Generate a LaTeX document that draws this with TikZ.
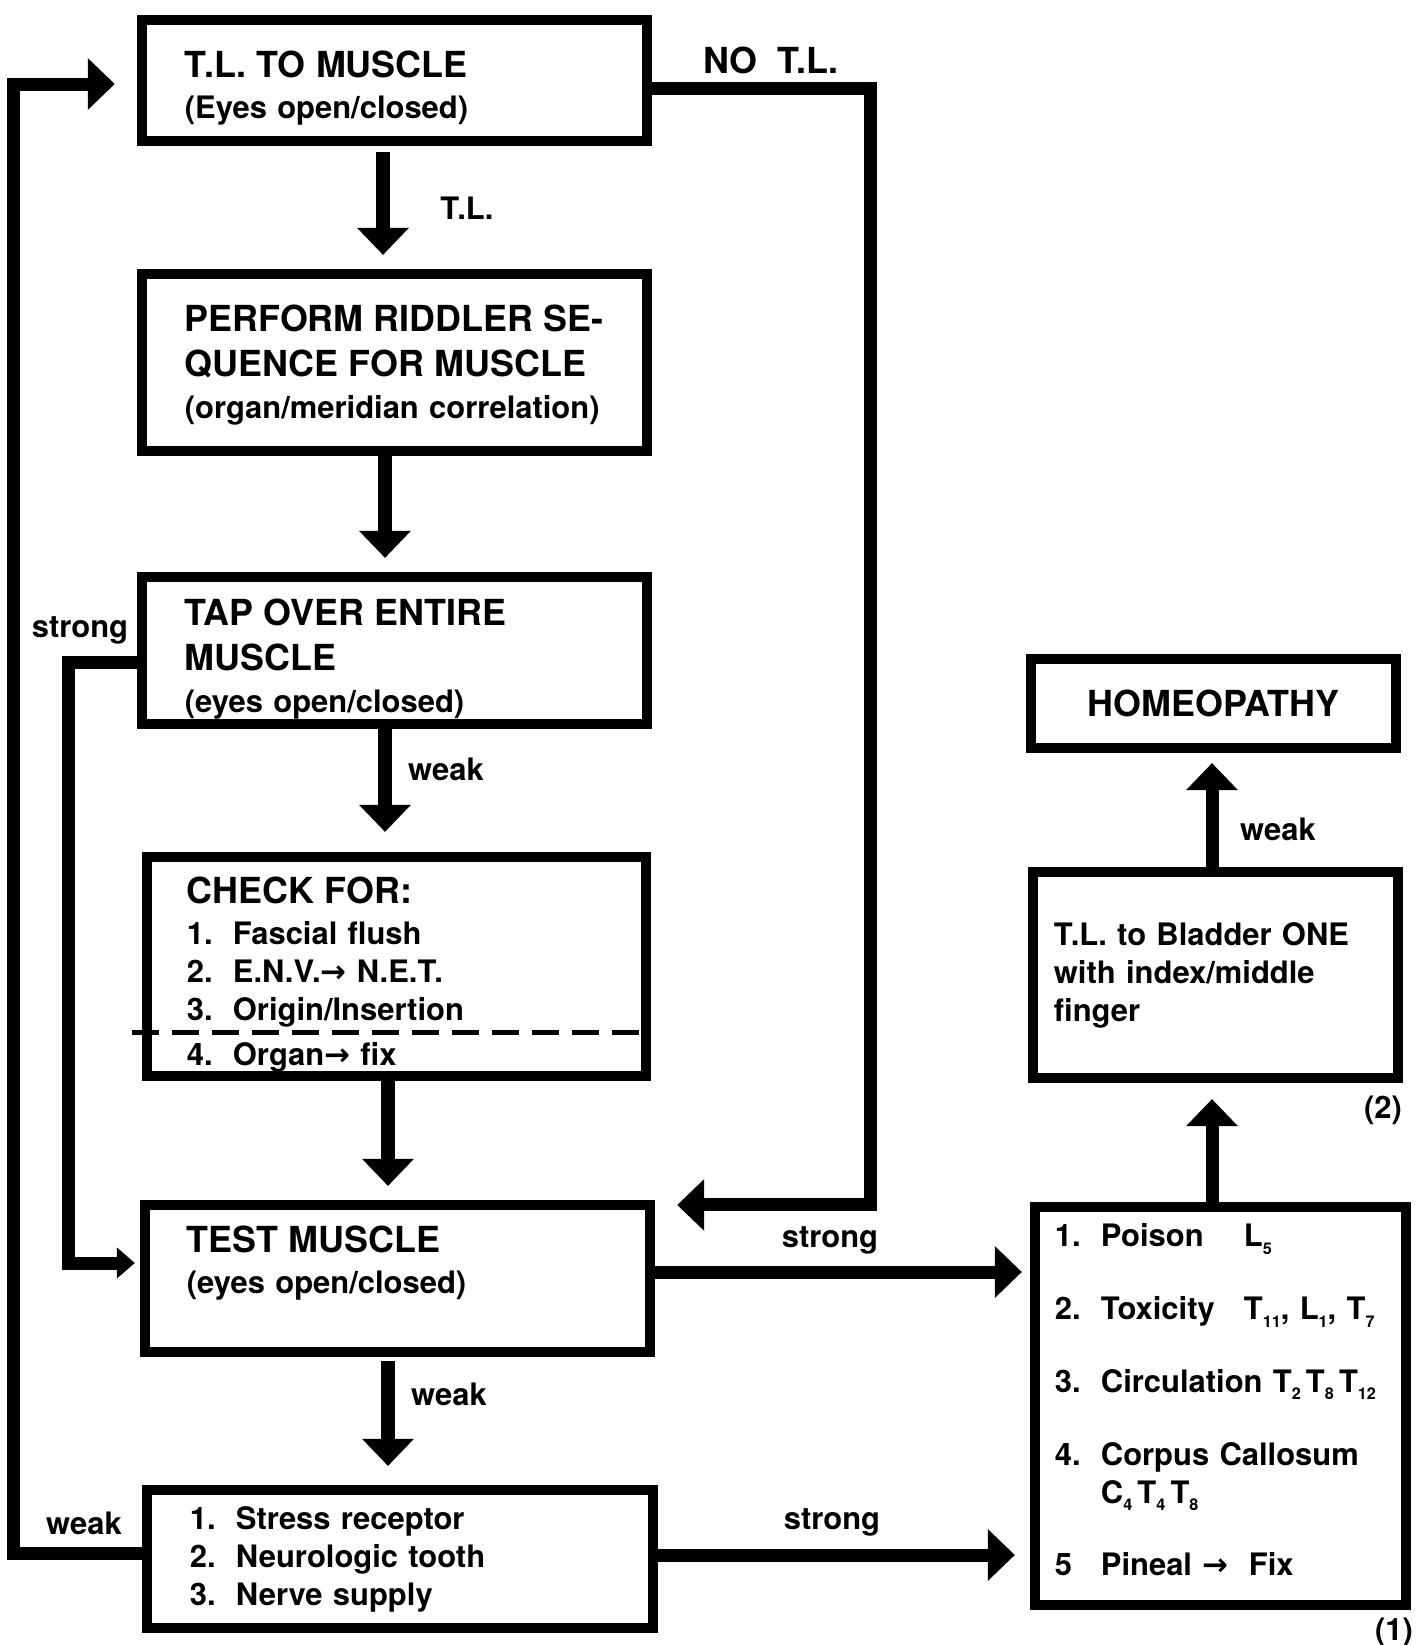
\documentclass[tikz,border=0pt]{standalone}
\usepackage{fontspec}
\setmainfont{TeX Gyre Heros}
\newfontfamily\arrowfont{DejaVu Sans}
\usetikzlibrary{arrows.meta}
\newcommand{\hdsize}{\fontsize{10.2}{12.5}\selectfont}
\newcommand{\bdsize}{\fontsize{8.8}{10.8}\selectfont}
\newcommand{\rarr}{{\arrowfont\bfseries →}}
\newcommand{\itm}[2]{\makebox[0.46cm][l]{#1}#2}
\newcommand{\vsub}[1]{\raisebox{-0.45ex}{\fontsize{4.6}{5}\selectfont #1}}
\newcommand{\topgap}[1]{\rule{0pt}{#1}}

\begin{document}
\begin{tikzpicture}[x=0.01cm, y=-0.01cm,
  box/.style={draw, line width=0.1cm, align=left, inner ysep=0pt,
              inner xsep=0.43cm, text width=4.19cm, font=\bfseries\bdsize},
  flow/.style={line width=0.13cm, -{Triangle[width=0.5cm, length=0.27cm]}},
  flowsmall/.style={line width=0.13cm, -{Triangle[width=0.3cm, length=0.18cm]}},
  lbl/.style={font=\bfseries\bdsize, inner sep=0pt}
]
  \useasboundingbox (0,0) rectangle (1424,1645);

  % left column
  \node[box, minimum height=1.21cm] (tlmuscle) at (394.5,80.5)
    {\topgap{12pt}{\hdsize T.L. TO MUSCLE}\\[1pt](Eyes open/closed)};
  \node[box, minimum height=1.77cm] (riddler) at (394.5,362.5)
    {\topgap{9pt}\mbox{\hdsize PERFORM RIDDLER SE-}\\[2pt]{\hdsize QUENCE FOR MUSCLE}\\[1pt]\mbox{(organ/meridian correlation)}};
  \node[box, minimum height=1.47cm] (tap) at (394.5,650.5)
    {\topgap{12.5pt}{\hdsize TAP OVER ENTIRE}\\[2pt]{\hdsize MUSCLE}\\[1pt](eyes open/closed)};
  \node[box, minimum height=2.19cm, inner xsep=0.40cm] (checkfor) at (396.5,966.5)
    {\topgap{12pt}{\hdsize CHECK FOR:}\\[1pt]\itm{1.}{Fascial flush}\\\itm{2.}{E.N.V.\rarr\ N.E.T.}\\\itm{3.}{Origin/Insertion}\\[2pt]\itm{4.}{Organ\rarr\ fix}};
  \node[box, minimum height=1.47cm, inner xsep=0.42cm, text width=4.21cm] (test) at (397.5,1278.5)
    {{\hdsize TEST MUSCLE}\\[1pt](eyes open/closed)\\\mbox{}};
  \node[box, minimum height=1.38cm, text width=4.20cm] (stress) at (400,1559)
    {\itm{1.}{Stress receptor}\\\itm{2.}{Neurologic tooth}\\\itm{3.}{Nerve supply}};

  % right column
  \node[box, minimum height=0.89cm, align=center, inner xsep=0.21cm, text width=3.23cm] (homeo) at (1213.5,703.5)
    {\hdsize HOMEOPATHY};
  \node[box, minimum height=2.06cm, inner xsep=0.21cm, text width=3.23cm] (bladder) at (1215.5,975)
    {T.L. to Bladder ONE\\with index/middle\\finger};
  \node[box, minimum height=3.98cm, inner xsep=0.20cm, text width=3.31cm] (levels) at (1220.5,1406)
    {\itm{1.}{\mbox{\makebox[1.43cm][l]{Poison}L\vsub{5}}}\\[9.9pt]
     \itm{2.}{\mbox{\makebox[1.43cm][l]{Toxicity}T\vsub{11}, L\vsub{1}, T\vsub{7}}}\\[9.9pt]
     \itm{3.}{\mbox{Circulation T\vsub{2}\,T\vsub{8}\,T\vsub{12}}}\\[9.9pt]
     \itm{4.}{Corpus Callosum}\\
     \itm{}{\mbox{C\vsub{4}\,T\vsub{4}\,T\vsub{8}}}\\[9.9pt]
     \itm{5}{Pineal \rarr\ \ Fix}\rule[-3.5pt]{0pt}{0pt}};

  \draw[line width=0.05cm, dash pattern=on 0.27cm off 0.13cm]
    ([xshift=-0.1cm,yshift=-0.655cm]checkfor.west) -- ([yshift=-0.655cm]checkfor.east);

  % main flow
  \draw[flow, shorten <=0.06cm, shorten >=0.14cm] ([xshift=-0.115cm]tlmuscle.south) -- ([xshift=-0.115cm]tlmuscle.south |- riddler.north);
  \draw[flow, shorten >=0.14cm] ([xshift=-0.095cm]riddler.south) -- ([xshift=-0.095cm]riddler.south |- tap.north);
  \draw[flow, shorten >=0.2cm] ([xshift=-0.095cm]tap.south) -- ([xshift=-0.095cm]tap.south |- checkfor.north);
  \draw[flow, shorten >=0.14cm] ([xshift=-0.085cm]checkfor.south) -- ([xshift=-0.085cm]checkfor.south |- test.north);
  \draw[flow, shorten <=0.04cm, shorten >=0.19cm] ([xshift=-0.095cm]test.south) -- ([xshift=-0.095cm]test.south |- stress.north);
  \draw[flow, shorten >=0.08cm] ([yshift=0.065cm]test.east) -- ([yshift=0.065cm]test.east -| levels.west);
  \draw[flow, shorten >=0.15cm] ([yshift=0.04cm]stress.east) -- ([yshift=0.04cm]stress.east -| levels.west);
  \draw[flow, shorten >=0.16cm] ([xshift=-0.085cm]levels.north) -- ([xshift=-0.085cm]levels.north |- bladder.south);
  \draw[flow, shorten >=0.1cm] ([xshift=-0.035cm]bladder.north) -- ([xshift=-0.035cm]bladder.north |- homeo.south);

  % loops
  \draw[flow] ([yshift=-0.08cm]tlmuscle.east) -| ([xshift=2.15cm,yshift=-0.05cm]test.north east)
    -- ([xshift=0.22cm,yshift=-0.05cm]test.north east);
  \draw[flow, shorten >=0.22cm] ([yshift=0.06cm]stress.west) -- ++(-128,0) |- ([yshift=-0.035cm]tlmuscle.west);
  \draw[flowsmall, shorten >=0.05cm] ([yshift=-0.115cm]tap.west) -- ++(-68,0) |- ([yshift=0.155cm]test.west);

  % labels
  \node[lbl] (tllbl) at (467,208) {T.L.};
  \node[lbl, font=\bfseries\hdsize] (notllbl) at (771,60) {NO\ \ T.L.};
  \node[lbl] (weaktap) at (446,769) {weak};
  \node[lbl] (weaktest) at (449,1394) {weak};
  \node[lbl] (weakbladder) at (1278,829) {weak};
  \node[lbl] (strongtest) at (830,1240) {strong};
  \node[lbl] (strongstress) at (832,1522) {strong};
  \node[lbl] (strongtap) at (80,630) {strong};
  \node[lbl] (weakstress) at (84,1523) {weak};
  \node[lbl] (twolbl) at (1383,1110) {(2)};
  \node[lbl] (onelbl) at (1394,1632) {(1)};
\end{tikzpicture}
\end{document}
